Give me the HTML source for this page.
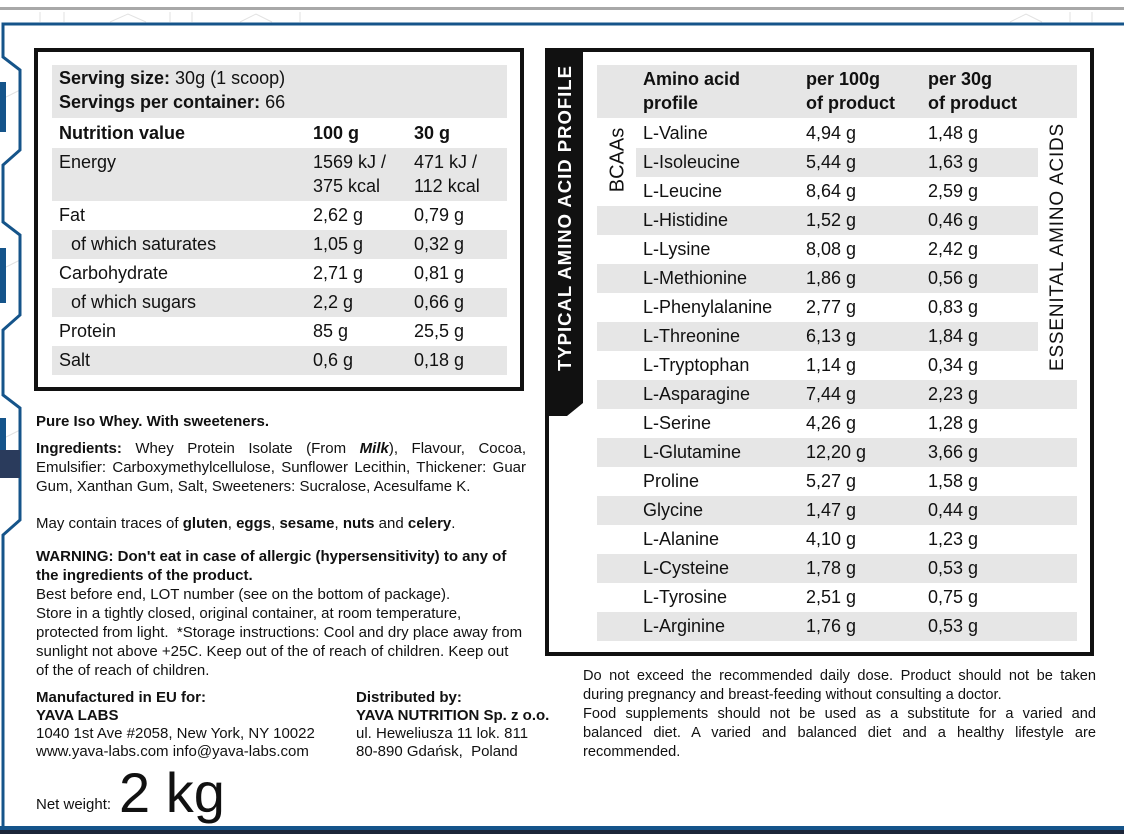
<!DOCTYPE html>
<html><head><meta charset="utf-8"><style>
*{margin:0;padding:0;box-sizing:border-box}
body{width:1124px;height:834px;position:relative;overflow:hidden;background:#fff;font-family:"Liberation Sans",sans-serif;color:#111}
.a{position:absolute;white-space:nowrap}
.g{position:absolute;background:#e6e6e6}
.t{position:absolute;font-size:18px;line-height:29px;white-space:nowrap}
.s{position:absolute;font-size:15px;line-height:19px;white-space:nowrap}
.j{display:block;text-align:justify;text-align-last:justify;white-space:normal}
.r{position:absolute;font-size:14.6px;line-height:19px;white-space:nowrap;width:513px}
b{font-weight:bold}
</style></head><body>
<svg class="a" style="left:0;top:0" width="1124" height="834">
<rect x="0" y="7" width="1124" height="3" fill="#a8a8a8"/>
<g stroke="#e2e2e2" stroke-width="1" fill="none">
<line x1="40" y1="12" x2="40" y2="22"/><line x1="64" y1="12" x2="64" y2="22"/><line x1="170" y1="12" x2="170" y2="22"/><line x1="192" y1="12" x2="192" y2="22"/><line x1="300" y1="12" x2="300" y2="22"/>
<polyline points="110,22 128,14 146,22"/><polyline points="240,22 256,14 272,22"/><polyline points="1010,22 1026,14 1042,22"/>
<line x1="1070" y1="12" x2="1070" y2="22"/><line x1="1092" y1="12" x2="1092" y2="22"/>
<line x1="0" y1="100" x2="20" y2="90"/><line x1="0" y1="270" x2="20" y2="260"/><line x1="0" y1="440" x2="20" y2="430"/>
</g>
<polyline points="1124,24 3,24 3,57 20,70 20,150 3,165 3,222 20,235 20,315 3,330 3,395 20,408 20,520 3,535 3,826" fill="none" stroke="#15548a" stroke-width="3"/>
<rect x="0" y="82" width="6" height="50" fill="#15548a"/>
<rect x="0" y="248" width="6" height="55" fill="#15548a"/>
<rect x="0" y="418" width="6" height="40" fill="#15548a"/>
<rect x="0" y="450" width="20" height="28" fill="#2a3b5c"/>
<rect x="0" y="826" width="1124" height="4" fill="#15548a"/>
<rect x="0" y="830" width="1124" height="4" fill="#1c2538"/>
</svg>

<!-- left box -->
<div class="a" style="left:34px;top:48px;width:490px;height:343px;border:4px solid #111"></div>
<div class="g" style="left:52px;top:65px;width:455px;height:53px"></div>
<div class="t" style="left:59px;top:66px;line-height:24px"><b>Serving size:</b> 30g (1 scoop)<br><b>Servings per container:</b> 66</div>
<div class="t" style="left:59px;top:119px"><b>Nutrition value</b></div>
<div class="t" style="left:313px;top:119px"><b>100 g</b></div>
<div class="t" style="left:414px;top:119px"><b>30 g</b></div>
<div class="g" style="left:52px;top:148px;width:455px;height:53px"></div>
<div class="t" style="left:59px;top:148px">Energy</div>
<div class="t" style="left:313px;top:150px;line-height:24px">1569 kJ /<br>375 kcal</div>
<div class="t" style="left:414px;top:150px;line-height:24px">471 kJ /<br>112 kcal</div>
<div class="g" style="left:52px;top:230px;width:455px;height:29px"></div>
<div class="g" style="left:52px;top:288px;width:455px;height:29px"></div>
<div class="g" style="left:52px;top:346px;width:455px;height:29px"></div>
<div class="t" style="left:59px;top:201px">Fat</div><div class="t" style="left:313px;top:201px">2,62 g</div><div class="t" style="left:414px;top:201px">0,79 g</div>
<div class="t" style="left:71px;top:230px">of which saturates</div><div class="t" style="left:313px;top:230px">1,05 g</div><div class="t" style="left:414px;top:230px">0,32 g</div>
<div class="t" style="left:59px;top:259px">Carbohydrate</div><div class="t" style="left:313px;top:259px">2,71 g</div><div class="t" style="left:414px;top:259px">0,81 g</div>
<div class="t" style="left:71px;top:288px">of which sugars</div><div class="t" style="left:313px;top:288px">2,2 g</div><div class="t" style="left:414px;top:288px">0,66 g</div>
<div class="t" style="left:59px;top:317px">Protein</div><div class="t" style="left:313px;top:317px">85 g</div><div class="t" style="left:414px;top:317px">25,5 g</div>
<div class="t" style="left:59px;top:346px">Salt</div><div class="t" style="left:313px;top:346px">0,6 g</div><div class="t" style="left:414px;top:346px">0,18 g</div>

<!-- left text -->
<div class="s" style="left:36px;top:412px"><b>Pure Iso Whey. With sweeteners.</b></div>
<div class="s" style="left:36px;top:439px;width:490px">
<span class="j"><b>Ingredients:</b> Whey Protein Isolate (From <b><i>Milk</i></b>), Flavour, Cocoa,</span>
<span class="j">Emulsifier: Carboxymethylcellulose, Sunflower Lecithin, Thickener: Guar</span>
Gum, Xanthan Gum, Salt, Sweeteners: Sucralose, Acesulfame K.</div>
<div class="s" style="left:36px;top:514px">May contain traces of <b>gluten</b>, <b>eggs</b>, <b>sesame</b>, <b>nuts</b> and <b>celery</b>.</div>
<div class="s" style="left:36px;top:547px"><b>WARNING: Don't eat in case of allergic (hypersensitivity) to any of<br>the ingredients of the product.</b><br>Best before end, LOT number (see on the bottom of package).<br>Store in a tightly closed, original container, at room temperature,<br>protected from light.&nbsp; *Storage instructions: Cool and dry place away from<br>sunlight not above +25C. Keep out of the of reach of children. Keep out<br>of the of reach of children.</div>
<div class="s" style="left:36px;top:689px;line-height:18px"><b>Manufactured in EU for:<br>YAVA LABS</b><br>1040 1st Ave #2058, New York, NY 10022<br>www.yava-labs.com info@yava-labs.com</div>
<div class="s" style="left:356px;top:689px;line-height:18px"><b>Distributed by:<br>YAVA NUTRITION Sp. z o.o.</b><br>ul. Heweliusza 11 lok. 811<br>80-890 Gdańsk,&nbsp; Poland</div>
<div class="a" style="left:36px;top:796px;font-size:15px">Net weight:</div>
<div class="a" style="left:119px;top:763px;font-size:56px;line-height:60px">2 kg</div>

<!-- right box -->
<div class="a" style="left:545px;top:48px;width:549px;height:608px;border:4px solid #111"></div>
<svg class="a" style="left:545px;top:48px" width="40" height="370"><polygon points="0,0 38,0 38,355 22,368 0,368" fill="#111"/></svg>
<div class="a" style="left:565px;top:218px;transform:translate(-50%,-50%) rotate(-90deg);color:#fff;font-weight:bold;font-size:18.5px;letter-spacing:1px">TYPICAL AMINO ACID PROFILE</div>
<div class="g" style="left:597px;top:65px;width:480px;height:53px"></div>
<div class="t" style="left:643px;top:67px;line-height:24px"><b>Amino acid<br>profile</b></div>
<div class="t" style="left:806px;top:67px;line-height:24px"><b>per 100g<br>of product</b></div>
<div class="t" style="left:928px;top:67px;line-height:24px"><b>per 30g<br>of product</b></div>
<div class="g" style="left:636px;top:148px;width:402px;height:29px"></div>
<div class="g" style="left:597px;top:206px;width:441px;height:29px"></div>
<div class="g" style="left:597px;top:264px;width:441px;height:29px"></div>
<div class="g" style="left:597px;top:322px;width:441px;height:29px"></div>
<div class="g" style="left:597px;top:380px;width:480px;height:29px"></div>
<div class="g" style="left:597px;top:438px;width:480px;height:29px"></div>
<div class="g" style="left:597px;top:496px;width:480px;height:29px"></div>
<div class="g" style="left:597px;top:554px;width:480px;height:29px"></div>
<div class="g" style="left:597px;top:612px;width:480px;height:29px"></div>
<div class="t" style="left:643px;top:119px">L-Valine<br>L-Isoleucine<br>L-Leucine<br>L-Histidine<br>L-Lysine<br>L-Methionine<br>L-Phenylalanine<br>L-Threonine<br>L-Tryptophan<br>L-Asparagine<br>L-Serine<br>L-Glutamine<br>Proline<br>Glycine<br>L-Alanine<br>L-Cysteine<br>L-Tyrosine<br>L-Arginine</div>
<div class="t" style="left:806px;top:119px">4,94 g<br>5,44 g<br>8,64 g<br>1,52 g<br>8,08 g<br>1,86 g<br>2,77 g<br>6,13 g<br>1,14 g<br>7,44 g<br>4,26 g<br>12,20 g<br>5,27 g<br>1,47 g<br>4,10 g<br>1,78 g<br>2,51 g<br>1,76 g</div>
<div class="t" style="left:928px;top:119px">1,48 g<br>1,63 g<br>2,59 g<br>0,46 g<br>2,42 g<br>0,56 g<br>0,83 g<br>1,84 g<br>0,34 g<br>2,23 g<br>1,28 g<br>3,66 g<br>1,58 g<br>0,44 g<br>1,23 g<br>0,53 g<br>0,75 g<br>0,53 g</div>
<div class="a" style="left:618px;top:160px;transform:translate(-50%,-50%) rotate(-90deg);font-size:20px">BCAAs</div>
<div class="a" style="left:1058px;top:247px;transform:translate(-50%,-50%) rotate(-90deg);font-size:19px;letter-spacing:0.8px">ESSENITAL AMINO ACIDS</div>

<div class="r" style="left:583px;top:667px">
<span class="j">Do not exceed the recommended daily dose. Product should not be taken</span>
during pregnancy and breast-feeding without consulting a doctor.<br>
<span class="j">Food supplements should not be used as a substitute for a varied and</span>
<span class="j">balanced diet. A varied and balanced diet and a healthy lifestyle are</span>
recommended.</div>
</body></html>
